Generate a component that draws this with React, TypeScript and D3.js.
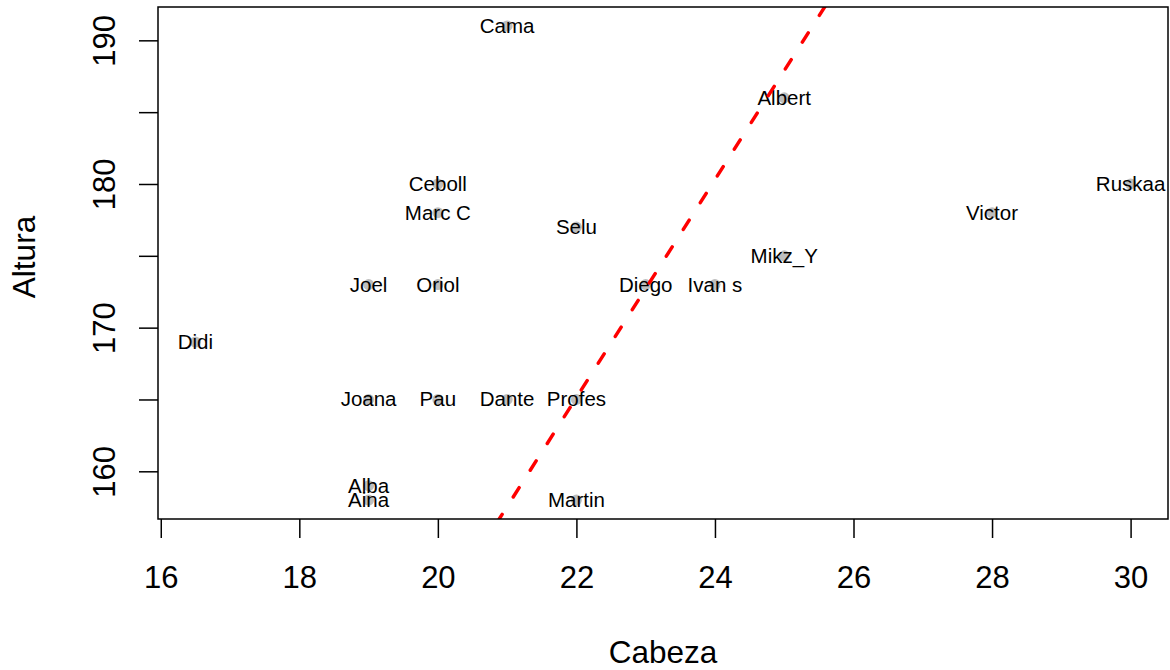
import React, { useEffect, useRef } from 'react';
import * as d3 from 'd3';

const width = 1170;
const height = 670;
const margin = { top: 7, right: 2, bottom: 151, left: 158 };
const red = '#ff0000';
const font = '"Liberation Sans", Arial, sans-serif';

// data
const names = ['Cama', 'Albert', 'Ceboll', 'Marc C', 'Selu', 'Joel', 'Oriol', 'Diego', 'Ivan s', 'Mikz_Y',
  'Victor', 'Ruskaa', 'Didi', 'Joana', 'Pau', 'Dante', 'Profes', 'Alba', 'Aina', 'Martin'];
const cabeza = [21, 25, 20, 20, 22, 19, 20, 23, 24, 25, 28, 30, 16.5, 19, 20, 21, 22, 19, 19, 22];
const altura = [191, 186, 180, 178, 177, 173, 173, 173, 173, 175, 178, 180, 169, 165, 165, 165, 165, 159, 158, 158];
const xTicks = [16, 18, 20, 22, 24, 26, 28, 30];
const yTicks = [160, 165, 170, 175, 180, 185, 190];
// fitted line: altura = intercept + slope * cabeza
const intercept = -1.76;
const slope = 7.586;

// R style 4% padding of the range
const pad = (ext: [number, number]): [number, number] => {
  const d = (ext[1] - ext[0]) * 0.04;
  return [ext[0] - d, ext[1] + d];
};

const xScale = d3.scaleLinear()
  .domain(pad(d3.extent(cabeza) as [number, number]))
  .range([margin.left, width - margin.right]);
const yScale = d3.scaleLinear()
  .domain(pad(d3.extent(altura) as [number, number]))
  .range([height - margin.bottom, margin.top]);

const App = () => {
  const xAxisRef = useRef<SVGGElement>(null);
  const yAxisRef = useRef<SVGGElement>(null);

  useEffect(() => {
    document.body.style.margin = '0';
    const xAxis = d3.axisBottom(xScale).tickValues(xTicks).tickSize(19).tickSizeOuter(0).tickPadding(28);
    const gx = d3.select(xAxisRef.current!).call(xAxis);
    gx.select('.domain').remove();
    gx.selectAll('line').attr('stroke-width', 1.5);
    gx.selectAll('text').attr('font-size', 31).attr('font-family', font).attr('fill', '#000');

    const yAxis = d3.axisLeft(yScale).tickValues(yTicks).tickSize(19).tickSizeOuter(0)
      .tickFormat(d => (+d % 10 === 0 ? `${d}` : ''));
    const gy = d3.select(yAxisRef.current!).call(yAxis);
    gy.select('.domain').remove();
    gy.selectAll('line').attr('stroke-width', 1.5);
    gy.selectAll('text')
      .attr('font-size', 31).attr('font-family', font).attr('fill', '#000')
      .attr('transform', 'rotate(-90)')
      .attr('text-anchor', 'middle')
      .attr('x', 0).attr('y', -43).attr('dy', 0);
  }, []);

  const plotW = width - margin.left - margin.right;
  const plotH = height - margin.top - margin.bottom;

  // line end points (start just above the box so the dashes fall like the original)
  const yTop = yScale.invert(-16);
  const yBot = yScale.domain()[0];
  const lx1 = (yTop - intercept) / slope;
  const lx2 = (yBot - intercept) / slope;

  return (
    <svg width={width} height={height} style={{ display: 'block' }}>
      <rect width={width} height={height} fill="#fff" />
      <defs>
        <clipPath id="plotclip">
          <rect x={margin.left} y={margin.top} width={plotW} height={plotH} />
        </clipPath>
      </defs>
      <g>
        {names.map((n, i) => (
          <circle key={'p' + i} cx={xScale(cabeza[i])} cy={yScale(altura[i])} r={5.5} fill="#bebebe" />
        ))}
        {names.map((n, i) => (
          <text key={'t' + i} x={xScale(cabeza[i])} y={yScale(altura[i]) + 7} textAnchor="middle"
            fontSize={20.5} fontFamily={font} fill="#000">{n}</text>
        ))}
      </g>
      <line clipPath="url(#plotclip)"
        x1={xScale(lx1)} y1={yScale(yTop)}
        x2={xScale(lx2)} y2={yScale(yBot)}
        stroke={red} strokeWidth={3.5} strokeDasharray="11 20.7" strokeDashoffset={5.5} strokeLinecap="round" />
      <rect x={margin.left} y={margin.top} width={plotW} height={plotH} fill="none" stroke="#000" strokeWidth={1.5} />
      <g ref={xAxisRef} transform={`translate(0, ${height - margin.bottom})`} />
      <g ref={yAxisRef} transform={`translate(${margin.left}, 0)`} />
      <text x={margin.left + plotW / 2} y={663} textAnchor="middle" fontSize={31.5} fontFamily={font}>Cabeza</text>
      <text transform={`translate(35, ${margin.top + plotH / 2 - 6}) rotate(-90)`} textAnchor="middle"
        fontSize={31.5} fontFamily={font}>Altura</text>
    </svg>
  );
};

export default App;
